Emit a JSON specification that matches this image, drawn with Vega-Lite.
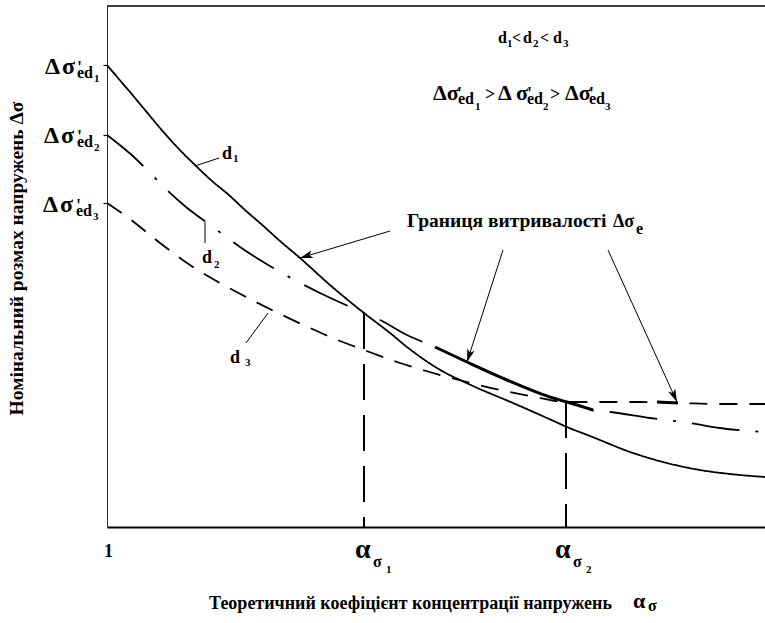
{
  "$schema": "https://vega.github.io/schema/vega-lite/v6.json",
  "width": 658,
  "height": 521,
  "autosize": {"type": "none"},
  "padding": {"left": 107, "top": 6, "right": 0, "bottom": 96},
  "background": "white",
  "config": {"view": {"stroke": null}},
  "datasets": {
    "curves": [
      {"series": "d1", "x": 0, "y": 462}, {"series": "d1", "x": 11, "y": 449}, {"series": "d1", "x": 23, "y": 435}, {"series": "d1", "x": 38, "y": 417}, {"series": "d1", "x": 53, "y": 399}, {"series": "d1", "x": 70, "y": 380}, {"series": "d1", "x": 88, "y": 362}, {"series": "d1", "x": 105, "y": 346}, {"series": "d1", "x": 123, "y": 331}, {"series": "d1", "x": 138, "y": 317}, {"series": "d1", "x": 153, "y": 304}, {"series": "d1", "x": 173, "y": 286}, {"series": "d1", "x": 193, "y": 269}, {"series": "d1", "x": 223, "y": 242}, {"series": "d1", "x": 257, "y": 214}, {"series": "d1", "x": 283, "y": 194}, {"series": "d1", "x": 300, "y": 180}, {"series": "d1", "x": 330, "y": 159}, {"series": "d1", "x": 366, "y": 141}, {"series": "d1", "x": 406, "y": 124}, {"series": "d1", "x": 440, "y": 109}, {"series": "d1", "x": 460, "y": 100}, {"series": "d1", "x": 483, "y": 91}, {"series": "d1", "x": 526, "y": 74}, {"series": "d1", "x": 560, "y": 64}, {"series": "d1", "x": 593, "y": 57}, {"series": "d1", "x": 623, "y": 53}, {"series": "d1", "x": 658, "y": 50},
      {"series": "d2", "x": 0, "y": 392}, {"series": "d2", "x": 14, "y": 381}, {"series": "d2", "x": 28, "y": 369}, {"series": "d2", "x": 43, "y": 354}, {"series": "d2", "x": 60, "y": 337}, {"series": "d2", "x": 79, "y": 320}, {"series": "d2", "x": 106, "y": 300}, {"series": "d2", "x": 133, "y": 280}, {"series": "d2", "x": 153, "y": 267}, {"series": "d2", "x": 175, "y": 254}, {"series": "d2", "x": 213, "y": 234}, {"series": "d2", "x": 257, "y": 214}, {"series": "d2", "x": 273, "y": 207}, {"series": "d2", "x": 300, "y": 192}, {"series": "d2", "x": 328, "y": 180}, {"series": "d2", "x": 360, "y": 165}, {"series": "d2", "x": 400, "y": 147}, {"series": "d2", "x": 446, "y": 129}, {"series": "d2", "x": 460, "y": 125}, {"series": "d2", "x": 483, "y": 117}, {"series": "d2", "x": 503, "y": 115}, {"series": "d2", "x": 543, "y": 109}, {"series": "d2", "x": 583, "y": 104}, {"series": "d2", "x": 613, "y": 99}, {"series": "d2", "x": 658, "y": 95},
      {"series": "d3", "x": 0, "y": 324}, {"series": "d3", "x": 23, "y": 308}, {"series": "d3", "x": 53, "y": 284}, {"series": "d3", "x": 83, "y": 262}, {"series": "d3", "x": 113, "y": 244}, {"series": "d3", "x": 143, "y": 228}, {"series": "d3", "x": 173, "y": 213}, {"series": "d3", "x": 203, "y": 199}, {"series": "d3", "x": 233, "y": 186}, {"series": "d3", "x": 257, "y": 177}, {"series": "d3", "x": 293, "y": 164}, {"series": "d3", "x": 326, "y": 154}, {"series": "d3", "x": 360, "y": 145}, {"series": "d3", "x": 393, "y": 137}, {"series": "d3", "x": 423, "y": 131}, {"series": "d3", "x": 460, "y": 125}, {"series": "d3", "x": 493, "y": 125}, {"series": "d3", "x": 533, "y": 125}, {"series": "d3", "x": 573, "y": 124}, {"series": "d3", "x": 613, "y": 123}, {"series": "d3", "x": 658, "y": 123}
    ],
    "boundary": [
      {"seg": "b2", "x": 328, "y": 180}, {"seg": "b2", "x": 360, "y": 165}, {"seg": "b2", "x": 400, "y": 147}, {"seg": "b2", "x": 446, "y": 129}, {"seg": "b2", "x": 460, "y": 125}, {"seg": "b2", "x": 486, "y": 117},
      {"seg": "b3", "x": 550, "y": 125}, {"seg": "b3", "x": 571, "y": 124}
    ],
    "segs": [
      {"kind": "frame", "x": 0, "y": 521, "x2": 658, "y2": 521},
      {"kind": "arrow", "x": 283, "y": 296, "x2": 193, "y2": 269},
      {"kind": "arrow", "x": 396, "y": 277, "x2": 360, "y2": 165},
      {"kind": "arrow", "x": 501, "y": 277, "x2": 570, "y2": 125},
      {"kind": "leader", "x": 88, "y": 361, "x2": 112, "y2": 369},
      {"kind": "leader", "x": 98, "y": 305, "x2": 98, "y2": 284},
      {"kind": "leader", "x": 161, "y": 214, "x2": 139, "y2": 184},
      {"kind": "vline", "x": 257, "y": 214, "x2": 257, "y2": 0},
      {"kind": "vline", "x": 459, "y": 125, "x2": 459, "y2": 0}
    ],
    "tips": [
      {"id": "a1", "x": 193, "y": 269},
      {"id": "a2", "x": 360, "y": 165},
      {"id": "a3", "x": 570, "y": 125}
    ],
    "t24": [
      {"t": "Δ\u200aσ", "x": -62, "y": 453}, {"t": "Δ\u200aσ", "x": -63, "y": 384}, {"t": "Δ\u200aσ", "x": -64, "y": 315}
    ],
    "t22": [
      {"t": "Δσ", "x": 326, "y": 427}, {"t": "Δ σ", "x": 391, "y": 427}, {"t": "Δσ", "x": 458, "y": 427},
      {"t": "α", "x": 526, "y": -81}
    ],
    "t28": [
      {"t": "α", "x": 248, "y": -31}, {"t": "α", "x": 448, "y": -31}
    ],
    "t18": [
      {"t": "'", "x": -30, "y": 453}, {"t": "'", "x": -30, "y": 384}, {"t": "'", "x": -31, "y": 315},
      {"t": "'", "x": 350, "y": 427}, {"t": "'", "x": 420, "y": 427}, {"t": "'", "x": 482, "y": 427},
      {"t": ">", "x": 378, "y": 427}, {"t": ">", "x": 443, "y": 427},
      {"t": "d", "x": 115, "y": 368}, {"t": "d", "x": 95, "y": 264}, {"t": "d", "x": 123, "y": 164},
      {"t": "1", "x": -3, "y": -30},
      {"t": "Δσ", "x": 506, "y": 300}
    ],
    "phrase": [
      {"t": "Границя витривалості", "x": 300, "y": 300}
    ],
    "t16": [
      {"t": "ed", "x": -30, "y": 449}, {"t": "ed", "x": -30, "y": 380}, {"t": "ed", "x": -31, "y": 311},
      {"t": "ed", "x": 351, "y": 423}, {"t": "ed", "x": 420, "y": 423}, {"t": "ed", "x": 482, "y": 423},
      {"t": "e", "x": 529, "y": 293},
      {"t": "d", "x": 391, "y": 484}, {"t": "<", "x": 405, "y": 484}, {"t": "d", "x": 416, "y": 484}, {"t": "<", "x": 433, "y": 484}, {"t": "d", "x": 446, "y": 484},
      {"t": "σ", "x": 541, "y": -84},
      {"t": "σ", "x": 266, "y": -40}, {"t": "σ", "x": 466, "y": -40}
    ],
    "t11": [
      {"t": "1", "x": -13, "y": 445}, {"t": "2", "x": -13, "y": 376}, {"t": "3", "x": -14, "y": 307},
      {"t": "1", "x": 368, "y": 417}, {"t": "2", "x": 436, "y": 417}, {"t": "3", "x": 498, "y": 417},
      {"t": "1", "x": 400, "y": 480}, {"t": "2", "x": 426, "y": 480}, {"t": "3", "x": 456, "y": 480},
      {"t": "1", "x": 126, "y": 365}, {"t": "2", "x": 107, "y": 259}, {"t": "3", "x": 138, "y": 161},
      {"t": "1", "x": 279, "y": -46}, {"t": "2", "x": 479, "y": -46}
    ]
  },
  "encoding": {
    "x": {
      "field": "x", "type": "quantitative",
      "scale": {"domain": [0, 658], "nice": false, "zero": false},
      "axis": {
        "domain": true, "domainColor": "black", "domainWidth": 2,
        "ticks": false, "labels": false, "grid": false,
        "title": "Теоретичний коефіцієнт концентрації напружень",
        "titleFont": "Liberation Serif, Times New Roman, DejaVu Serif, serif", "titleFontWeight": "bold", "titleFontSize": 18, "titleColor": "black",
        "titleX": 303, "titleY": 81, "titleAlign": "center", "titleBaseline": "alphabetic"
      }
    },
    "y": {
      "field": "y", "type": "quantitative",
      "scale": {"domain": [0, 521], "nice": false, "zero": false},
      "axis": {
        "values": [462, 392, 324],
        "domain": true, "domainColor": "#333333", "domainWidth": 1,
        "ticks": true, "tickSize": 4, "tickColor": "black", "tickWidth": 1.2,
        "labels": false, "grid": false,
        "title": "Номінальний розмах напружень  Δσ",
        "titleFont": "Liberation Serif, Times New Roman, DejaVu Serif, serif", "titleFontWeight": "bold", "titleFontSize": 19.5, "titleColor": "black",
        "titleAngle": -90, "titleX": -85, "titleY": 252, "titleAlign": "center", "titleBaseline": "alphabetic"
      }
    }
  },
  "layer": [
    {
      "data": {"name": "curves"},
      "mark": {"type": "line", "interpolate": "monotone", "color": "black", "strokeWidth": 1.8},
      "encoding": {
        "detail": {"field": "series", "type": "nominal"},
        "strokeDash": {
          "field": "series", "type": "nominal",
          "scale": {"domain": ["d1", "d2", "d3"], "range": [[1, 0], [48, 16, 3, 16], [18, 12]]},
          "legend": null
        }
      }
    },
    {
      "data": {"name": "boundary"},
      "mark": {"type": "line", "interpolate": "monotone", "color": "black", "strokeWidth": 3},
      "encoding": {"detail": {"field": "seg", "type": "nominal"}}
    },
    {
      "data": {"name": "segs"},
      "transform": [{"filter": "datum.kind === 'arrow' || datum.kind === 'leader'"}],
      "mark": {"type": "rule", "color": "black", "strokeWidth": 1},
      "encoding": {"x2": {"field": "x2"}, "y2": {"field": "y2"}}
    },
    {
      "data": {"name": "segs"},
      "transform": [{"filter": "datum.kind === 'frame'"}],
      "mark": {"type": "rule", "color": "black", "strokeWidth": 1.5},
      "encoding": {"x2": {"field": "x2"}, "y2": {"field": "y2"}}
    },
    {
      "data": {"name": "segs"},
      "transform": [{"filter": "datum.kind === 'vline'"}],
      "mark": {"type": "rule", "color": "black", "strokeWidth": 2, "strokeDash": [36, 15]},
      "encoding": {"x2": {"field": "x2"}, "y2": {"field": "y2"}}
    },
    {
      "data": {"name": "tips"},
      "transform": [{"filter": "datum.id === 'a1'"}],
      "mark": {"type": "point", "filled": true, "color": "black", "opacity": 1, "size": 196, "angle": 253, "shape": "M0,0L-0.55,1.85L0,1.4L0.55,1.85Z"}
    },
    {
      "data": {"name": "tips"},
      "transform": [{"filter": "datum.id === 'a2'"}],
      "mark": {"type": "point", "filled": true, "color": "black", "opacity": 1, "size": 196, "angle": 198, "shape": "M0,0L-0.55,1.85L0,1.4L0.55,1.85Z"}
    },
    {
      "data": {"name": "tips"},
      "transform": [{"filter": "datum.id === 'a3'"}],
      "mark": {"type": "point", "filled": true, "color": "black", "opacity": 1, "size": 196, "angle": 156, "shape": "M0,0L-0.55,1.85L0,1.4L0.55,1.85Z"}
    },
    {
      "data": {"name": "t24"},
      "mark": {"type": "text", "font": "Liberation Serif, Times New Roman, DejaVu Serif, serif", "fontWeight": "bold", "fontSize": 24, "align": "left", "baseline": "alphabetic", "color": "black"},
      "encoding": {"text": {"field": "t"}}
    },
    {
      "data": {"name": "t22"},
      "mark": {"type": "text", "font": "Liberation Serif, Times New Roman, DejaVu Serif, serif", "fontWeight": "bold", "fontSize": 22, "align": "left", "baseline": "alphabetic", "color": "black"},
      "encoding": {"text": {"field": "t"}}
    },
    {
      "data": {"name": "t28"},
      "mark": {"type": "text", "font": "Liberation Serif, Times New Roman, DejaVu Serif, serif", "fontWeight": "bold", "fontSize": 28, "align": "left", "baseline": "alphabetic", "color": "black"},
      "encoding": {"text": {"field": "t"}}
    },
    {
      "data": {"name": "t18"},
      "mark": {"type": "text", "font": "Liberation Serif, Times New Roman, DejaVu Serif, serif", "fontWeight": "bold", "fontSize": 18, "align": "left", "baseline": "alphabetic", "color": "black"},
      "encoding": {"text": {"field": "t"}}
    },
    {
      "data": {"name": "phrase"},
      "mark": {"type": "text", "font": "Liberation Serif, Times New Roman, DejaVu Serif, serif", "fontWeight": "bold", "fontSize": 19.5, "align": "left", "baseline": "alphabetic", "color": "black"},
      "encoding": {"text": {"field": "t"}}
    },
    {
      "data": {"name": "t16"},
      "mark": {"type": "text", "font": "Liberation Serif, Times New Roman, DejaVu Serif, serif", "fontWeight": "bold", "fontSize": 16, "align": "left", "baseline": "alphabetic", "color": "black"},
      "encoding": {"text": {"field": "t"}}
    },
    {
      "data": {"name": "t11"},
      "mark": {"type": "text", "font": "Liberation Serif, Times New Roman, DejaVu Serif, serif", "fontWeight": "bold", "fontSize": 11, "align": "left", "baseline": "alphabetic", "color": "black"},
      "encoding": {"text": {"field": "t"}}
    }
  ]
}
